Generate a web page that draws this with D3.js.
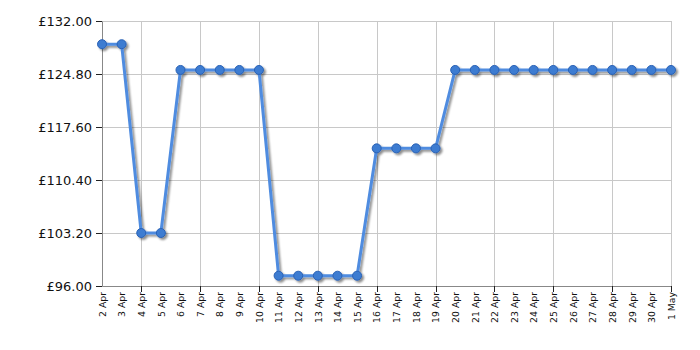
<!DOCTYPE html>
<html>
<head>
<meta charset="utf-8">
<script src="https://cdn.jsdelivr.net/npm/d3@7"></script>
<style>
  body { margin: 0; background: #fff; }
  svg { display: block; font-family: "DejaVu Sans", Verdana, sans-serif; }
</style>
</head>
<body>
<div class="price-chart"></div>
<script>
// dates (day of month) and prices
const days = ['2023-04-02','2023-04-03','2023-04-04','2023-04-05','2023-04-06','2023-04-07',
  '2023-04-08','2023-04-09','2023-04-10','2023-04-11','2023-04-12','2023-04-13','2023-04-14',
  '2023-04-15','2023-04-16','2023-04-17','2023-04-18','2023-04-19','2023-04-20','2023-04-21',
  '2023-04-22','2023-04-23','2023-04-24','2023-04-25','2023-04-26','2023-04-27','2023-04-28',
  '2023-04-29','2023-04-30','2023-05-01'];
const prices = [128.85, 128.85, 103.2, 103.2, 125.35, 125.35, 125.35, 125.35, 125.35,
  97.4, 97.4, 97.4, 97.4, 97.4, 114.7, 114.7, 114.7, 114.7,
  125.35, 125.35, 125.35, 125.35, 125.35, 125.35, 125.35, 125.35, 125.35, 125.35, 125.35, 125.35];
const yTicks = [96, 103.2, 110.4, 117.6, 124.8, 132];

const parseDay = d3.timeParse('%Y-%m-%d');
const data = days.map((d, i) => ({date: parseDay(d), price: prices[i]}));

const svg_width = 700, svg_height = 350;
const margin = {top: 21, right: 29, bottom: 64, left: 102};
const chart_width = svg_width - margin.left - margin.right;
const chart_height = svg_height - margin.top - margin.bottom;

const svg = d3.select('.price-chart').append('svg')
  .attr('width', svg_width).attr('height', svg_height);

// drop shadow for the line and dots
const defs = svg.append('defs');
const f = defs.append('filter').attr('id', 'shadow')
  .attr('x', '-20%').attr('y', '-20%').attr('width', '140%').attr('height', '140%');
f.append('feGaussianBlur').attr('in', 'SourceAlpha').attr('stdDeviation', 1.2).attr('result', 'b');
f.append('feOffset').attr('in', 'b').attr('dx', 2).attr('dy', 2).attr('result', 'o');
f.append('feComponentTransfer').attr('in', 'o').attr('result', 'o2')
  .append('feFuncA').attr('type', 'linear').attr('slope', 0.45);
const m = f.append('feMerge');
m.append('feMergeNode').attr('in', 'o2');
m.append('feMergeNode').attr('in', 'SourceGraphic');

const g = svg.append('g').attr('transform', `translate(${margin.left},${margin.top})`);

const xScale = d3.scaleTime().domain(d3.extent(data, d => d.date)).range([0, chart_width]);
const yScale = d3.scaleLinear().domain([96, 132]).range([chart_height, 0]);

// major ticks every 3 days from 4 Apr, plus the last date
const allDates = data.map(d => d.date);
const majorDates = allDates.filter((d, i) => i >= 2 && (i - 2) % 3 === 0);

// gridlines
g.append('g').selectAll('line.hgrid').data(yTicks).join('line')
  .attr('x1', 0).attr('x2', chart_width)
  .attr('y1', d => yScale(d)).attr('y2', d => yScale(d))
  .attr('stroke', '#c8c8c8').attr('stroke-width', 1).attr('shape-rendering', 'crispEdges');
g.append('g').selectAll('line.vgrid').data(majorDates).join('line')
  .attr('x1', d => Math.round(xScale(d))).attr('x2', d => Math.round(xScale(d)))
  .attr('y1', 0).attr('y2', chart_height)
  .attr('stroke', '#c8c8c8').attr('stroke-width', 1).attr('shape-rendering', 'crispEdges');

// y axis
const yAxis = d3.axisLeft(yScale).tickValues(yTicks)
  .tickFormat(d => '£' + d3.format('.2f')(d)).tickSizeInner(6).tickSizeOuter(0).tickPadding(4);
const yAxisDraw = g.append('g').attr('class', 'y axis').call(yAxis);
yAxisDraw.select('.domain').attr('stroke', '#888');
yAxisDraw.selectAll('.tick line').attr('stroke', '#222');
yAxisDraw.selectAll('text').attr('font-size', 13).attr('fill', '#111')
  .attr('font-family', '"DejaVu Sans", Verdana, sans-serif');

// x axis: every date labelled, tick marks only on major dates
const xAxis = d3.axisBottom(xScale).tickValues(allDates)
  .tickFormat(d3.timeFormat('%-d %b')).tickSizeInner(0).tickSizeOuter(0);
const xAxisDraw = g.append('g').attr('class', 'x axis')
  .attr('transform', `translate(0,${chart_height})`).call(xAxis);
xAxisDraw.select('.domain').attr('stroke', '#888');
xAxisDraw.selectAll('text')
  .attr('font-size', 9.3).attr('fill', '#111')
  .attr('font-family', '"DejaVu Sans", Verdana, sans-serif')
  .attr('text-anchor', 'end')
  .attr('transform', 'rotate(-90)')
  .attr('x', -6).attr('y', 0).attr('dy', '0.35em');
g.append('g').selectAll('line.xtick').data(majorDates).join('line')
  .attr('x1', d => Math.round(xScale(d)) + 0.5).attr('x2', d => Math.round(xScale(d)) + 0.5)
  .attr('y1', chart_height).attr('y2', chart_height + 6)
  .attr('stroke', '#222');

// price line with dots
const line = d3.line().x(d => xScale(d.date)).y(d => yScale(d.price));
const series = g.append('g').attr('filter', 'url(#shadow)');
series.append('path').datum(data)
  .attr('d', line).attr('fill', 'none')
  .attr('stroke', '#4f8ce0').attr('stroke-width', 3).attr('stroke-linejoin', 'round');
series.selectAll('circle').data(data).join('circle')
  .attr('cx', d => xScale(d.date)).attr('cy', d => yScale(d.price))
  .attr('r', 4.5).attr('fill', '#3d7bd1').attr('stroke', '#2a62b5').attr('stroke-width', 1);
</script>
</body>
</html>
